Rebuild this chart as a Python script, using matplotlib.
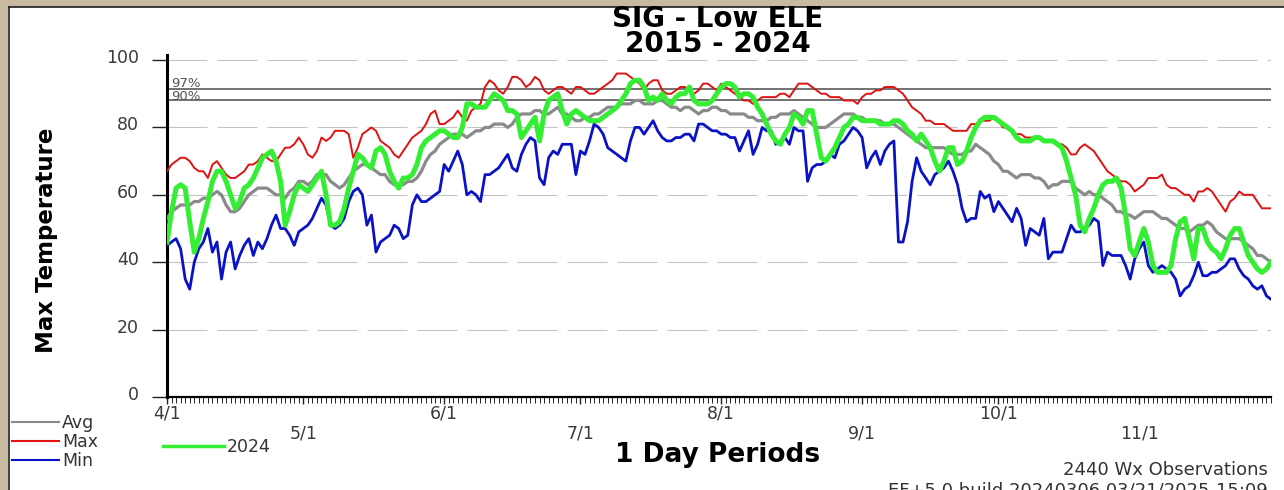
import matplotlib
matplotlib.use("Agg")
import matplotlib.pyplot as plt
import matplotlib.transforms as mtransforms
from matplotlib.patches import Rectangle
from matplotlib.lines import Line2D
import numpy as np
import pandas as pd

# ---------------- data ----------------
start_date = "2024-04-01"
n_days = 244

max_vals = [
    67, 69, 70, 71, 71, 70, 68, 67, 67, 65,
    69, 70, 68, 66, 65, 65, 66, 67, 69, 69,
    70, 72, 71, 70, 70, 72, 74, 74, 75, 77,
    75, 72, 71, 73, 77, 76, 77, 79, 79, 79,
    78, 71, 74, 78, 79, 80, 79, 76, 75, 74,
    72, 71, 73, 75, 77, 78, 79, 81, 84, 85,
    81, 81, 82, 83, 85, 83, 82, 85, 86, 87,
    92, 94, 93, 91, 90, 92, 95, 95, 94, 92,
    93, 95, 94, 91, 90, 91, 92, 92, 91, 90,
    92, 92, 91, 90, 90, 91, 92, 93, 94, 96,
    96, 96, 95, 94, 93, 91, 93, 94, 94, 91,
    90, 90, 91, 92, 92, 91, 90, 91, 93, 93,
    92, 91, 93, 92, 91, 90, 89, 88, 88, 87,
    88, 89, 89, 89, 89, 90, 90, 89, 91, 93,
    93, 93, 92, 91, 90, 90, 89, 89, 89, 88,
    88, 88, 87, 89, 90, 90, 91, 91, 92, 92,
    92, 91, 90, 88, 86, 85, 84, 82, 82, 81,
    81, 81, 80, 79, 79, 79, 79, 81, 81, 82,
    82, 82, 83, 82, 80, 80, 79, 78, 78, 77,
    77, 77, 77, 76, 76, 76, 75, 75, 74, 72,
    72, 74, 75, 74, 73, 71, 69, 67, 66, 65,
    64, 64, 63, 61, 62, 63, 65, 65, 65, 66,
    63, 62, 62, 61, 60, 60, 58, 61, 61, 62,
    61, 59, 57, 55, 58, 59, 61, 60, 60, 60,
    58, 56, 56, 56,
]

avg_vals = [
    53, 55, 56, 57, 57, 57, 58, 58, 59, 59,
    60, 61, 60, 57, 55, 55, 56, 58, 60, 61,
    62, 62, 62, 61, 60, 60, 59, 61, 62, 64,
    64, 63, 64, 66, 66, 66, 64, 63, 62, 63,
    65, 67, 68, 69, 69, 68, 67, 66, 66, 64,
    63, 63, 63, 64, 64, 65, 67, 70, 72, 73,
    75, 76, 77, 78, 78, 78, 77, 78, 79, 79,
    80, 80, 81, 81, 81, 80, 81, 83, 84, 84,
    84, 85, 85, 84, 84, 85, 86, 84, 84, 83,
    82, 82, 83, 83, 84, 84, 85, 86, 86, 86,
    87, 87, 87, 88, 88, 87, 87, 87, 88, 88,
    87, 86, 86, 85, 86, 86, 85, 84, 85, 85,
    86, 86, 85, 85, 84, 84, 84, 84, 83, 83,
    82, 82, 82, 83, 83, 84, 84, 84, 85, 84,
    83, 82, 81, 80, 80, 80, 81, 82, 83, 84,
    84, 84, 83, 83, 82, 82, 82, 82, 81, 81,
    81, 80, 79, 78, 77, 76, 75, 74, 74, 74,
    74, 74, 73, 72, 72, 72, 73, 73, 75, 74,
    73, 72, 70, 69, 67, 67, 66, 65, 66, 66,
    66, 65, 65, 64, 62, 63, 63, 64, 64, 64,
    62, 61, 60, 61, 60, 60, 59, 58, 57, 55,
    55, 54, 54, 53, 54, 55, 55, 55, 54, 53,
    53, 52, 51, 50, 50, 49, 50, 51, 51, 52,
    51, 49, 48, 47, 47, 47, 47, 46, 45, 44,
    42, 42, 41, 40,
]

min_vals = [
    45, 46, 47, 44, 35, 32, 40, 44, 46, 50,
    43, 46, 35, 43, 46, 38, 42, 45, 47, 42,
    46, 44, 47, 51, 54, 50, 50, 48, 45, 49,
    50, 51, 53, 56, 59, 57, 51, 50, 51, 53,
    58, 61, 62, 60, 51, 54, 43, 46, 47, 48,
    51, 50, 47, 48, 57, 60, 58, 58, 59, 60,
    61, 69, 67, 70, 73, 69, 60, 61, 60, 58,
    66, 66, 67, 68, 70, 72, 68, 67, 72, 75,
    77, 76, 65, 63, 71, 73, 72, 75, 75, 75,
    66, 73, 72, 76, 81, 80, 78, 74, 73, 72,
    71, 70, 76, 80, 80, 78, 80, 82, 79, 77,
    76, 76, 77, 77, 78, 78, 76, 81, 81, 80,
    79, 79, 78, 78, 77, 77, 73, 76, 79, 72,
    75, 80, 79, 79, 75, 76, 77, 75, 80, 79,
    79, 64, 68, 69, 69, 70, 72, 71, 75, 76,
    78, 80, 79, 77, 68, 71, 73, 69, 73, 75,
    76, 46, 46, 52, 64, 71, 67, 65, 63, 66,
    67, 68, 70, 67, 63, 56, 52, 53, 53, 61,
    59, 60, 55, 58, 56, 54, 52, 56, 53, 45,
    50, 49, 48, 53, 41, 43, 43, 43, 47, 51,
    49, 49, 50, 51, 53, 52, 39, 43, 42, 42,
    42, 39, 35, 41, 44, 46, 39, 37, 38, 39,
    38, 37, 35, 30, 32, 33, 36, 40, 36, 36,
    37, 37, 38, 39, 41, 41, 38, 36, 35, 33,
    32, 33, 30, 29,
]

y2024_vals = [
    46, 55, 62, 63, 62, 52, 43, 47, 53, 58,
    64, 67, 67, 64, 60, 56, 58, 62, 63, 65,
    68, 71, 72, 73, 70, 64, 51, 55, 60, 63,
    62, 61, 63, 65, 67, 60, 51, 51, 52, 56,
    62, 67, 72, 71, 69, 68, 73, 74, 72, 67,
    64, 62, 65, 65, 66, 69, 74, 76, 77, 78,
    79, 79, 78, 77, 77, 80, 87, 87, 86, 86,
    86, 88, 90, 89, 88, 85, 85, 84, 77, 79,
    81, 83, 76, 84, 88, 89, 90, 85, 81, 84,
    85, 84, 83, 82, 82, 82, 83, 84, 85, 86,
    88, 90, 93, 94, 94, 92, 88, 89, 88, 90,
    88, 87, 89, 90, 90, 92, 88, 87, 87, 87,
    88, 90, 92, 93, 93, 92, 89, 90, 90, 89,
    86, 84, 81, 78, 76, 75, 78, 80, 84, 83,
    81, 85, 85, 78, 71, 70, 72, 74, 77, 80,
    81, 83, 83, 82, 82, 82, 82, 81, 81, 81,
    82, 82, 81, 79, 78, 76, 78, 76, 74, 70,
    67, 70, 74, 74, 69, 70, 73, 77, 80, 82,
    83, 83, 83, 82, 81, 80, 79, 77, 76, 76,
    76, 77, 77, 76, 76, 76, 75, 74, 70, 65,
    60, 51, 49, 53, 56, 60, 63, 64, 64, 65,
    62, 54, 44, 42, 46, 50, 46, 39, 37, 37,
    37, 39, 47, 52, 53, 47, 41, 50, 50, 46,
    44, 43, 41, 44, 48, 50, 50, 46, 42, 40,
    38, 37, 38, 40,
]

pct_levels = [91.3, 88.0]
pct_labels = ["97%", "90%"]

month_labels = ["4/1", "5/1", "6/1", "7/1", "8/1", "9/1", "10/1", "11/1"]
month_dates = ["2024-04-01", "2024-05-01", "2024-06-01", "2024-07-01",
               "2024-08-01", "2024-09-01", "2024-10-01", "2024-11-01"]
y_ticks = [0, 20, 40, 60, 80, 100]

title_text = "SIG - Low ELE\n2015 - 2024"
xlabel_text = "1 Day Periods"
ylabel_text = "Max Temperature"
obs_text = "2440 Wx Observations"
build_text = "EF+5.0 build 20240306 03/21/2025-15:09"

for arr in (max_vals, avg_vals, min_vals, y2024_vals):
    assert len(arr) == n_days, len(arr)

# ---------------- figure ----------------
W, H = 1284, 490
fig = plt.figure(figsize=(W / 100, H / 100), dpi=100)
fig.patch.set_facecolor("white")
plt.rcParams["font.family"] = ["DejaVu Sans"]

def fx(px):
    return px / W

def fy(py):
    return 1 - py / H

ax_left, ax_right = 167, 1271
ax_top, ax_bottom = 55, 397
ax = fig.add_axes([fx(ax_left), fy(ax_bottom), fx(ax_right - ax_left), (ax_bottom - ax_top) / H])

days = np.arange(n_days)
start = pd.Timestamp(start_date)
month_pos = [(pd.Timestamp(d) - start).days for d in month_dates]

ax.set_xlim(0, n_days - 1)
ax.set_ylim(0, 101.5)

# gridlines
for v in y_ticks[1:]:
    ax.axhline(v, color="#c4c4c4", lw=0.8, ls=(0, (36, 9)), zorder=1)
# percentile lines
for i, (v, lab) in enumerate(zip(pct_levels, pct_labels)):
    ax.axhline(v, color="#5a5a5a", lw=1.2, zorder=2)
    ax.annotate(lab, xy=(0, v), xycoords=("axes fraction", "data"),
                xytext=(3, -0.5 if i == 0 else -1.5), textcoords="offset points",
                ha="left", va="bottom", fontsize=9.5, color="#555555", zorder=3)

l_avg, = ax.plot(days, avg_vals, color="#8a8a8a", lw=2.3, zorder=4, label="Avg")
l_max, = ax.plot(days, max_vals, color="#e01212", lw=1.4, zorder=5, label="Max")
l_min, = ax.plot(days, min_vals, color="#0a12c6", lw=2.0, zorder=5, label="Min")
l_24, = ax.plot(days, y2024_vals, color="#33ee33", lw=3.6, zorder=6, label="2024",
                solid_joinstyle="round")

for s in ("top", "right"):
    ax.spines[s].set_visible(False)
ax.spines["left"].set_linewidth(2.2)
ax.spines["bottom"].set_linewidth(1.6)
ax.spines["left"].set_color("black")
ax.spines["bottom"].set_color("black")

ax.set_yticks(y_ticks)
ax.set_yticklabels([str(v) for v in y_ticks])
ax.tick_params(axis="y", length=11, width=1.0, pad=9, labelsize=12.5,
               labelcolor="#3a3a3a", color="#222222")
off = mtransforms.ScaledTranslation(0, 4 / 100, fig.dpi_scale_trans)
for lab in ax.get_yticklabels():
    lab.set_transform(lab.get_transform() + off)

ax.set_xticks(month_pos)
ax.set_xticklabels([lab if i % 2 == 0 else "\n" + lab for i, lab in enumerate(month_labels)])
ax.set_xticks(days, minor=True)
ax.tick_params(axis="x", which="major", length=5, width=1.0, pad=0.5, labelsize=12.5,
               labelcolor="#3a3a3a", color="#222222")
ax.tick_params(axis="x", which="minor", length=4, width=0.7, color="#222222")
for lab in ax.get_xticklabels():
    lab.set_linespacing(1.1)

# titles and labels
fig.text(fx(718), fy(31.5), title_text, ha="center", va="center", fontsize=20,
         fontweight="bold", color="black", linespacing=0.9)
fig.text(fx(718), fy(455), xlabel_text, ha="center", va="center", fontsize=19,
         fontweight="bold", color="black")
fig.text(fx(47), fy(240), ylabel_text, ha="center", va="center", rotation=90,
         fontsize=16.5, fontweight="bold", color="black")
fig.text(fx(1268), fy(470), obs_text, ha="right", va="center", fontsize=13,
         color="#333333")
fig.text(fx(1268), fy(490), build_text, ha="right", va="center", fontsize=13,
         color="#333333")

# legends
leg1 = fig.legend(handles=[l_avg, l_max, l_min], labels=["Avg", "Max", "Min"],
                  loc="upper left", bbox_to_anchor=(fx(9), fy(411)),
                  frameon=False, fontsize=12.5, handlelength=2.7, handletextpad=0.15,
                  labelspacing=0.05, borderpad=0.2, borderaxespad=0)
for t in leg1.get_texts():
    t.set_color("#333333")
for h in leg1.legend_handles:
    h.set_linewidth(1.5)
leg2 = fig.legend(handles=[l_24], labels=["2024"],
                  loc="upper left", bbox_to_anchor=(fx(160), fy(435)),
                  frameon=False, fontsize=12.5, handlelength=3.5, handletextpad=0.15,
                  borderpad=0.2, borderaxespad=0)
for t in leg2.get_texts():
    t.set_color("#333333")
for h in leg2.legend_handles:
    h.set_linewidth(2.5)

# outer frame
tan = "#c8baa0"
fig.patches.append(Rectangle((0, fy(7)), 1, 7 / H, transform=fig.transFigure,
                             facecolor=tan, edgecolor="none", zorder=0))
fig.patches.append(Rectangle((0, 0), 8 / W, 1, transform=fig.transFigure,
                             facecolor=tan, edgecolor="none", zorder=0))
fig.lines.append(Line2D([8.5 / W, 1], [fy(7.5), fy(7.5)], transform=fig.transFigure,
                        color="#1e1e1e", lw=1.2))
fig.lines.append(Line2D([8.5 / W, 8.5 / W], [0, fy(7.5)], transform=fig.transFigure,
                        color="#1e1e1e", lw=1.2))

fig.savefig("out.png", dpi=100, facecolor="white")
